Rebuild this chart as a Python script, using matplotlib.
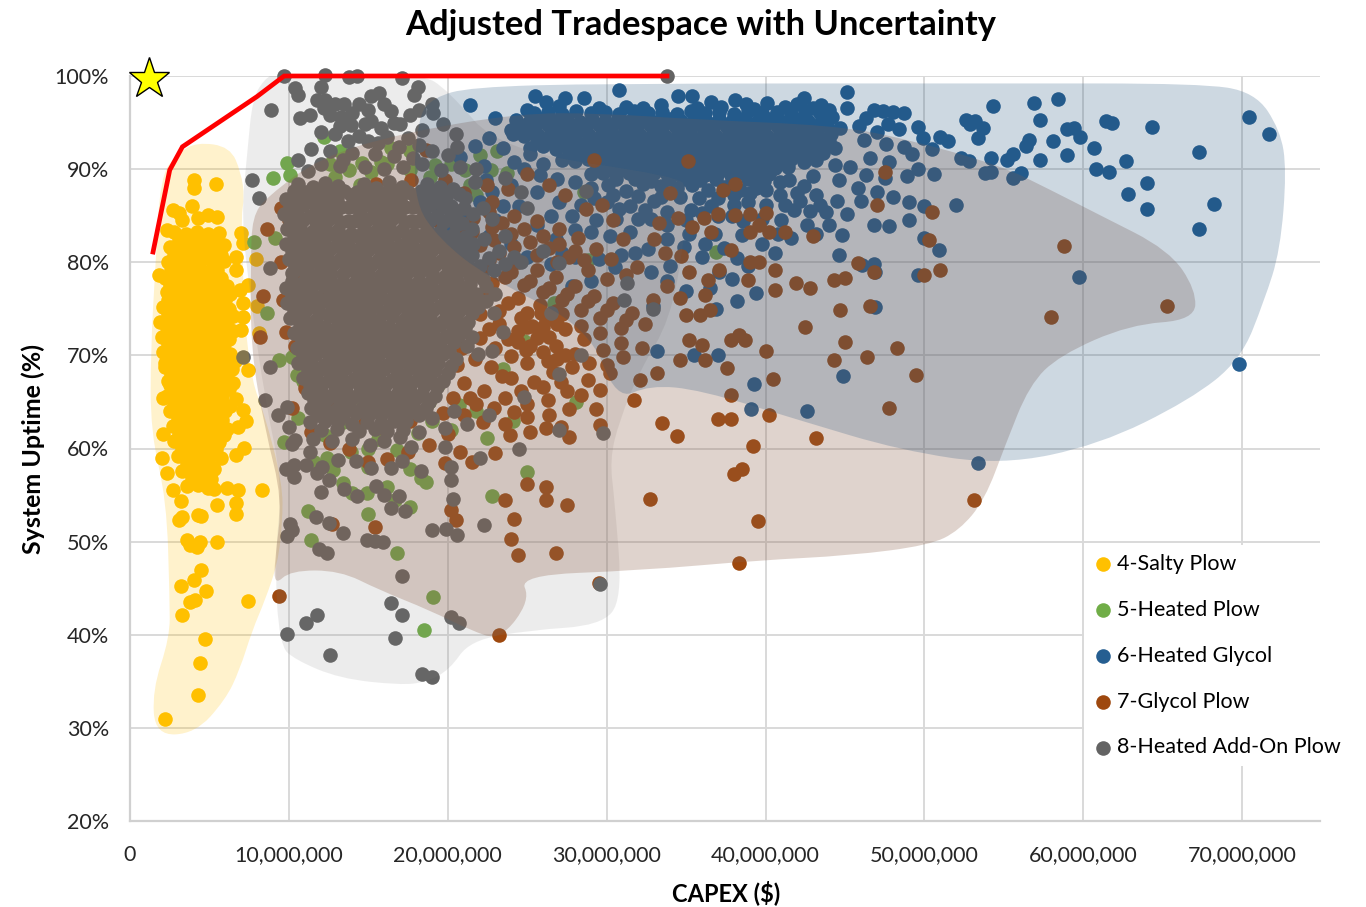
import numpy as np
import matplotlib
matplotlib.use('Agg')
import matplotlib.pyplot as plt
from matplotlib.patches import PathPatch
from matplotlib.path import Path

plt.rcParams['font.family'] = ['Lato', 'DejaVu Sans']

# points are (CAPEX in $M, uptime %)
salty = [
    (2.2,31.0),(4.3,33.5),(4.4,37.0),(4.7,39.5),(3.3,42.1),(3.8,43.5),(4.1,43.7),(3.2,45.2),(4.0,45.9),(4.5,46.9),
    (4.8,44.7),(7.4,43.6),(3.6,50.2),(3.8,49.6),(4.2,49.4),(4.4,50.0),(5.5,50.0),(3.1,52.3),(3.3,52.6),(4.5,52.7),
    (4.3,52.9),(5.5,53.9),(6.7,53.0),(6.7,54.2),(6.8,55.5),(6.1,55.8),(8.3,55.5),(7.2,60.1),(6.7,59.3),(7.3,63.0),
    (6.8,62.3),(7.1,64.1),(6.7,65.3),(7.4,68.4),(2.1,61.6),(2.0,59.0),(2.3,57.4),(2.7,55.5),(3.2,54.4),(2.1,65.4),
    (2.2,69.2),(2.5,66.8),(4.0,88.8),(4.0,88.0),(5.4,88.4),(3.9,86.0),(2.7,85.6),(3.1,85.3),(4.9,85.1),(5.5,84.9),
    (4.3,84.7),(3.3,84.5),(7.0,83.1),(7.1,82.1),(2.3,83.5),(6.7,80.6),(6.7,79.2),(1.8,78.6),(7.4,77.6),(6.9,77.0),
    (7.1,75.6),(7.1,74.1),(7.0,72.7),(8.1,72.4),(8.0,75.3),(7.9,80.3),
    (2.8,83.2),(3.5,83.0),(4.2,83.3),(4.9,83.0),(5.6,83.1),(2.5,81.6),(3.3,81.4),(4.0,81.7),(4.7,81.5),(5.4,81.4),(5.9,81.8),
    (2.4,80.0),(3.1,80.1),(3.8,79.8),(4.5,80.2),(5.2,79.9),(5.9,80.1),(2.2,78.3),(2.9,78.6),(3.6,78.4),(4.3,78.2),(5.0,78.5),(5.7,78.3),
    (2.3,76.8),(3.0,76.9),(3.7,76.6),(4.4,77.0),(5.1,76.7),(5.8,76.9),(6.3,76.6),(2.1,75.2),(2.8,75.3),(3.5,75.0),(4.2,75.4),(4.9,75.1),(5.6,75.2),(6.2,75.0),
    (1.9,73.6),(2.6,73.7),(3.3,73.4),(4.0,73.8),(4.7,73.5),(5.4,73.6),(6.1,73.3),(2.0,72.0),(2.7,72.1),(3.4,71.8),(4.1,72.2),(4.8,71.9),(5.5,72.0),(6.2,71.8),
    (2.1,70.4),(2.8,70.5),(3.5,70.2),(4.2,70.6),(4.9,70.3),(5.6,70.4),(6.3,70.1),(2.2,68.8),(2.9,68.9),(3.6,68.6),(4.3,69.0),(5.0,68.7),(5.7,68.8),(6.4,68.5),
    (2.4,67.2),(3.1,67.3),(3.8,67.0),(4.5,67.4),(5.2,67.1),(5.9,67.2),(6.5,67.0),(2.3,65.6),(3.0,65.7),(3.7,65.4),(4.4,65.8),(5.1,65.5),(5.8,65.6),
    (2.5,64.0),(3.2,64.1),(3.9,63.8),(4.6,64.2),(5.3,63.9),(6.0,64.0),(2.7,62.4),(3.4,62.5),(4.1,62.2),(4.8,62.6),(5.5,62.3),(6.1,62.1),
    (2.8,60.8),(3.5,60.9),(4.2,60.6),(4.9,61.0),(5.6,60.7),(3.0,59.2),(3.7,59.3),(4.4,59.0),(5.1,59.4),(5.7,59.0),(3.3,57.6),(4.0,57.7),(4.7,57.4),(5.3,57.8),(3.6,56.0),(4.3,56.1),(4.9,55.8),(5.3,55.6),
]

salty_core = [
    (3.1,82.4),(3.8,82.3),(4.6,82.5),(5.3,82.2),(2.8,80.8),(3.6,80.7),(4.3,80.9),(5.0,80.6),(5.7,80.8),(2.6,79.2),(3.3,79.1),(4.1,79.3),(4.8,79.0),(5.5,79.2),
    (2.5,77.6),(3.2,77.5),(4.0,77.7),(4.7,77.4),(5.4,77.6),(6.1,77.5),(2.4,76.0),(3.2,76.1),(3.9,75.9),(4.6,76.2),(5.3,75.9),(6.0,76.0),(2.4,74.4),(3.1,74.5),(3.8,74.3),(4.5,74.6),(5.2,74.3),(5.9,74.4),(6.5,74.2),
    (2.3,72.9),(3.0,72.8),(3.7,73.0),(4.4,72.7),(5.1,72.9),(5.8,72.8),(6.5,72.6),(2.4,71.2),(3.1,71.3),(3.8,71.0),(4.5,71.4),(5.2,71.1),(5.9,71.2),(2.5,69.6),(3.2,69.7),(3.9,69.4),(4.6,69.8),(5.3,69.5),(6.0,69.6),(6.6,69.4),
    (2.6,68.0),(3.3,68.1),(4.0,67.8),(4.7,68.2),(5.4,67.9),(6.1,68.0),(2.7,66.4),(3.4,66.5),(4.1,66.2),(4.8,66.6),(5.5,66.3),(6.2,66.4),(2.8,64.8),(3.5,64.9),(4.2,64.6),(4.9,65.0),(5.6,64.7),(6.3,64.6),
    (3.0,63.2),(3.7,63.3),(4.4,63.0),(5.1,63.4),(5.8,63.1),(3.1,61.6),(3.8,61.7),(4.5,61.4),(5.2,61.8),(5.9,61.4),(3.3,60.0),(4.0,60.1),(4.7,59.8),(5.4,60.0),(3.6,58.4),(4.3,58.5),(5.0,58.2),(3.9,56.8),(4.6,56.9),(5.1,56.7),
]

heated_plow = [
    (9.9,90.7),(9.0,89.0),(10.1,89.4),(7.8,82.2),(9.1,82.6),(8.6,74.6),(12.2,93.4),(9.4,69.5),(10.2,69.8),(10.5,67.9),
    (10.9,67.3),(10.6,63.3),(9.7,60.7),(11.2,53.3),(11.4,50.2),(16.8,48.8),(19.1,44.1),(18.5,40.5),(22.8,54.9),(18.3,56.8),
    (18.6,56.4),(15.0,53.0),(14.0,55.2),(14.9,55.2),(12.8,57.7),(13.4,62.8),(13.4,56.3),(15.0,58.0),(15.0,60.0),(16.2,55.9),
    (16.7,54.5),(17.6,53.7),(18.1,61.7),(20.7,64.7),(19.4,66.8),(24.1,63.0),(22.5,61.1),(25.0,57.5),(28.1,65.0),(26.9,75.6),
    (16.4,92.3),(17.6,92.0),(13.8,89.9),(15.2,89.7),(13.2,92.0),(14.5,88.3),(21.1,89.9),(22.0,91.5),(22.7,89.9),(23.1,92.0),
    (21.4,88.3),(19.2,90.4),(17.6,89.9),(18.6,87.8),(36.9,81.1),(28.8,80.2),(28.6,87.5),(26.7,75.6),(23.7,89.6),(15.8,90.8),
    (12.6,90.5),(11.6,58.5),(12.3,61.5),(14.2,65.5),(16.6,64.5),(18.8,65.0),(20.2,62.0),(21.8,64.0),(23.5,68.5),(24.8,71.5),
    (14.6,90.7),(16.2,90.6),(12.9,89.2),(18.9,89.2),(20.2,90.6),(21.8,87.2),(12.4,59.0),(13.9,59.6),(16.8,59.8),(19.0,63.0),(17.6,57.8),(15.6,61.0),
]

heated_glycol = [
    (71.7,93.8),(70.4,95.6),(69.8,69.1),(67.3,91.8),(68.2,86.3),(67.3,83.6),(64.0,88.5),(64.0,85.7),(64.3,94.5),(62.7,90.9),
    (62.8,87.3),(61.6,89.7),(60.7,92.3),(60.8,90.0),(59.8,93.4),(59.4,94.4),(59.0,94.3),(59.0,91.5),(58.1,93.0),(57.3,91.0),
    (58.4,97.5),(56.9,97.1),(57.3,95.3),(56.4,92.5),(56.6,93.1),(56.1,89.6),(55.6,89.0),(55.6,91.6),(55.2,91.0),(54.3,96.8),
    (54.2,91.2),(54.2,89.7),(53.8,89.6),(52.6,95.3),(53.2,95.2),(53.7,94.4),(53.4,93.3),(52.0,86.1),(59.7,78.4),(53.4,58.4),
    (46.9,75.2),(42.6,64.0),(39.3,66.9),(39.1,64.2),(44.9,67.8),(49.6,78.6),(50.9,81.3),(50.0,82.6),(46.9,78.9),(46.8,79.8),
    (44.6,80.8),(46.1,79.7),(61.4,95.2),(61.8,95.0),(52.9,94.8),(52.3,91.2),(52.8,90.9),(51.5,93.0),(51.0,93.4),(50.6,89.5),
    (49.6,90.0),(49.2,91.6),(49.9,93.3),(49.6,94.5),(50.5,92.2),(48.7,96.0),(48.0,96.1),(47.4,96.2),(46.8,96.3),(46.3,95.5),
    (45.9,94.6),(45.1,98.3),(45.1,96.6),(47.7,94.8),(48.4,94.3),(47.0,94.0),(46.2,93.1),(47.6,92.7),(48.7,92.4),(46.6,91.2),
    (47.8,90.8),(48.9,89.3),(47.5,89.0),(46.3,89.4),(45.3,90.2),(44.6,88.8),(45.8,88.0),(47.0,87.5),(48.0,87.0),(49.0,86.5),
    (50.0,86.0),(49.0,84.5),(47.8,83.9),(46.8,84.0),(45.1,85.2),(43.8,85.4),(42.8,85.5),(41.8,85.6),(41.0,84.5),(42.6,84.0),
    (44.0,84.0),(44.8,82.9),(43.2,87.2),(42.0,87.4),(40.9,87.2),(40.0,87.8),(41.5,88.8),(43.0,89.3),(44.4,90.4),(38.9,86.5),
    (38.0,86.2),(37.0,85.0),(36.0,85.3),(35.0,84.5),(33.8,84.0),(32.8,84.6),(36.8,83.0),(35.2,83.0),(38.5,82.9),(39.8,82.0),
    (40.6,81.0),(38.2,80.5),(37.1,79.0),(38.9,79.6),(37.9,78.2),(36.5,77.2),(35.0,76.9),(39.4,76.7),(38.2,75.8),(36.9,75.0),
    (33.8,78.0),(32.9,75.3),(33.2,70.5),(35.5,70.0),(37.0,70.0),(25.6,84.0),(26.8,82.5),(28.0,83.5),(29.3,84.5),(30.2,82.8),
    (31.5,83.2),(26.5,79.8),(27.8,77.5),(29.0,78.0),(30.5,79.5),(31.8,81.0),(24.5,86.0),(23.0,84.5),(22.0,86.5),(21.0,85.5),
    (19.3,86.0),(20.2,84.0),(22.8,87.5),(24.0,88.3),(25.6,87.5),(27.0,86.5),(28.4,86.2),(30.0,86.5),(31.5,86.0),(33.0,86.6),
    (21.4,96.9),(23.0,95.5),(24.0,94.2),(24.8,93.6),(23.5,92.3),(22.6,93.3),(21.7,92.5),(20.8,91.3),(22.3,90.3),(24.2,90.8),
    (25.5,97.9),(26.2,97.2),(27.4,97.6),(28.6,97.6),(30.8,98.5),(34.5,97.9),(35.4,97.9),(36.6,97.2),(38.1,97.4),(40.1,97.1),
    (42.4,97.6),(43.5,96.9),(25.0,96.4),(27.0,96.8),(29.5,96.6),(31.2,96.7),(32.3,96.6),(33.4,96.9),(35.7,96.6),(37.2,96.7),
    (38.8,97.0),(39.3,96.5),(41.2,96.7),(42.0,97.0),(43.0,96.6),(44.0,96.3),
    (24.3,95.3),(25.1,95.1),(25.9,95.4),(26.7,95.2),(27.5,95.4),(28.3,95.1),(29.1,95.4),(29.9,95.2),(30.7,95.5),(31.5,95.2),(32.3,95.4),(33.1,95.1),(33.9,95.4),(34.7,95.2),(35.5,95.4),(36.3,95.1),(37.1,95.4),(37.9,95.2),(38.7,95.5),(39.5,95.2),(40.3,95.4),(41.1,95.1),(41.9,95.4),(42.7,95.2),(43.5,95.1),
    (24.1,93.8),(24.9,93.9),(25.7,93.7),(26.5,93.9),(27.3,93.6),(28.1,93.9),(28.9,93.7),(29.7,93.8),(30.5,93.6),(31.3,93.9),(32.1,93.7),(32.9,93.9),(33.7,93.6),(34.5,93.9),(35.3,93.7),(36.1,93.8),(36.9,93.6),(37.7,93.9),(38.5,93.7),(39.3,93.9),(40.1,93.6),(40.9,93.9),(41.7,93.7),(42.5,93.8),(43.3,93.6),(44.1,93.8),
    (25.2,92.3),(26.0,92.5),(26.8,92.2),(27.6,92.4),(28.4,92.2),(29.2,92.4),(30.0,92.3),(30.8,92.5),(31.6,92.2),(32.4,92.4),(33.2,92.2),(34.0,92.4),(34.8,92.3),(35.6,92.5),(36.4,92.2),(37.2,92.4),(38.0,92.2),(38.8,92.4),(39.6,92.3),(40.4,92.5),(41.2,92.2),(42.0,92.4),(42.8,92.2),(43.6,92.4),(44.4,92.3),
    (27.2,91.0),(28.0,90.9),(28.8,91.1),(29.6,90.8),(30.4,91.0),(31.2,90.9),(32.0,91.1),(32.8,90.8),(33.6,91.0),(34.4,90.9),(35.2,91.1),(36.0,90.8),(36.8,91.0),(37.6,90.9),(38.4,91.1),(39.2,90.8),(40.0,91.0),(40.8,90.9),(41.6,91.1),(42.4,90.8),(43.2,91.0),
    (29.0,89.5),(29.8,89.6),(30.6,89.4),(31.4,89.6),(32.2,89.4),(33.0,89.6),(33.8,89.5),(34.6,89.4),(35.4,89.6),(36.2,89.4),(37.0,89.6),(37.8,89.4),(38.6,89.6),(39.4,89.3),(40.2,89.5),
    (33.4,88.2),(34.4,88.0),(35.4,88.3),(36.4,87.8),(37.4,88.1),(38.4,87.8),(39.4,88.0),
]

heated_glycol_core = [
    (25.4,96.0),(26.3,96.1),(27.2,95.9),(28.1,96.2),(29.0,96.0),(29.9,96.1),(30.8,95.9),(31.7,96.2),(32.6,96.0),(33.5,96.1),(34.4,95.9),(35.3,96.2),(36.2,96.0),(37.1,96.1),(38.0,95.9),(38.9,96.2),(39.8,96.0),(40.7,96.1),(41.6,95.9),(42.5,96.2),(43.4,96.0),(44.2,95.6),
    (24.7,94.6),(25.5,94.5),(26.3,94.7),(27.1,94.5),(27.9,94.6),(28.7,94.5),(29.5,94.7),(30.3,94.5),(31.1,94.6),(31.9,94.5),(32.7,94.7),(33.5,94.5),(34.3,94.6),(35.1,94.5),(35.9,94.7),(36.7,94.5),(37.5,94.6),(38.3,94.5),(39.1,94.7),(39.9,94.5),(40.7,94.6),(41.5,94.5),(42.3,94.7),(43.1,94.5),(43.9,94.6),(44.7,94.4),
    (25.6,93.1),(26.4,93.0),(27.2,93.2),(28.0,93.0),(28.8,93.1),(29.6,93.0),(30.4,93.2),(31.2,93.0),(32.0,93.1),(32.8,93.0),(33.6,93.2),(34.4,93.0),(35.2,93.1),(36.0,93.0),(36.8,93.2),(37.6,93.0),(38.4,93.1),(39.2,93.0),(40.0,93.2),(40.8,93.0),(41.6,93.1),(42.4,93.0),(43.2,93.2),(44.0,93.0),
    (27.6,91.7),(28.4,91.6),(29.2,91.8),(30.0,91.6),(30.8,91.7),(31.6,91.6),(32.4,91.8),(33.2,91.6),(34.0,91.7),(34.8,91.6),(35.6,91.8),(36.4,91.6),(37.2,91.7),(38.0,91.6),(38.8,91.8),(39.6,91.6),(40.4,91.7),(41.2,91.6),(42.0,91.8),(42.8,91.6),(43.6,91.7),
    (29.4,90.2),(30.2,90.3),(31.0,90.1),(31.8,90.3),(32.6,90.2),(33.4,90.1),(34.2,90.3),(35.0,90.2),(35.8,90.1),(36.6,90.3),(37.4,90.2),(38.2,90.1),(39.0,90.3),(39.8,90.2),(40.6,90.1),(41.4,90.2),
    (29.0,88.0),(30.1,88.3),(31.2,87.7),(32.3,88.4),(24.8,90.0),(25.8,89.4),(26.9,88.9),(28.0,88.6),(26.0,90.6),(25.2,91.6),(22.4,88.8),(23.5,86.0),(26.5,85.0),(27.8,85.0),(29.0,83.2),(30.6,84.6),(32.0,84.6),(33.8,82.5),(34.9,81.6),(36.0,80.6),(32.6,81.4),(30.9,80.8),(29.5,80.4),(28.0,80.6),(27.2,81.0),
    (37.4,81.5),(36.2,82.0),(38.6,84.4),(39.8,84.6),(40.8,83.0),(41.6,82.6),(43.2,83.0),(34.0,79.6),(32.8,79.0),(25.0,80.6),(24.0,82.0),(22.6,82.8),(21.3,83.4),
    (30.6,88.9),(31.8,88.9),(32.8,88.7),(33.9,88.9),(34.9,88.9),(35.9,88.8),(36.9,88.9),(37.9,88.7),(38.9,88.9),(39.9,88.7),(40.9,88.6),(42.4,88.2),(30.4,87.2),(32.0,87.1),(33.4,87.0),(34.6,87.0),(35.8,86.9),(37.0,86.9),(38.0,87.2),(39.0,87.4),(29.2,86.9),(30.8,85.7),(32.4,85.6),(33.8,85.4),(35.3,85.6),(36.6,86.0),(37.9,85.0),
    (40.0,86.2),(41.2,86.2),(42.2,86.6),(43.4,86.2),(44.5,86.6),(46.0,86.6),
]

glycol_plow = [
    (9.4,44.2),(23.2,40.0),(38.3,47.7),(53.1,54.5),(65.3,75.3),(58.0,74.1),(58.8,81.7),(39.5,52.2),(38.0,57.3),(38.5,57.8),
    (39.2,60.3),(43.2,61.1),(40.2,63.6),(37.8,63.2),(33.5,62.7),(34.4,61.3),(32.7,54.6),(26.8,48.8),(29.5,45.6),(24.4,48.6),
    (24.0,50.3),(24.2,52.4),(23.6,54.5),(25.0,56.2),(26.2,55.9),(26.2,54.5),(27.5,53.9),(47.8,64.3),(49.5,67.9),(48.3,70.8),
    (46.4,69.8),(44.3,69.5),(45.0,71.4),(42.5,73.0),(44.7,74.9),(46.6,75.3),(40.5,67.5),(40.0,70.5),(38.7,71.6),(38.3,72.2),
    (37.6,68.6),(37.8,65.7),(37.0,63.2),(33.2,68.1),(32.1,67.4),(31.7,65.2),(30.2,68.1),(29.6,66.3),(29.3,64.2),(29.6,62.5),
    (27.6,61.2),(27.1,62.3),(26.2,62.2),(25.2,61.8),(23.9,61.4),(23.0,59.5),(21.5,58.5),(20.8,59.6),(19.8,58.4),(20.5,52.3),
    (20.2,53.4),(15.4,51.6),(12.7,51.9),(50.5,85.4),(47.0,86.2),(47.5,89.7),(35.1,90.9),(38.1,88.4),(37.3,87.8),(38.1,85.1),
    (39.0,85.2),(40.0,85.3),(39.6,84.0),(39.0,83.2),(40.2,83.2),(41.2,83.2),(43.0,82.8),(45.8,79.9),(45.0,78.3),(46.8,79.0),
    (44.3,78.1),(41.9,77.8),(42.8,77.2),(40.6,79.2),(40.6,77.0),(39.6,80.0),(39.0,80.0),(37.8,81.3),(38.9,78.1),(37.1,79.2),
    (36.4,78.1),(36.2,76.5),(36.5,74.9),(35.9,74.3),(35.0,74.3),(35.2,71.6),(36.0,71.1),(34.6,69.5),(36.2,69.5),(37.8,71.6),
    (50.0,78.6),(51.0,79.2),(50.3,82.4),(36.1,84.7),(35.4,83.8),(36.6,83.2),(37.0,85.2),(34.0,87.4),(34.5,84.8),(33.3,84.2),
    (33.0,82.5),(33.7,81.0),(34.7,80.7),(35.2,79.0),(33.8,77.5),(34.6,76.2),(32.9,75.9),(31.9,79.5),(31.0,82.5),(30.4,84.5),
    (29.7,86.2),(28.7,85.7),(27.4,87.2),(26.4,88.3),(25.0,89.5),(23.8,87.9),(22.8,86.5),(24.2,85.0),(25.6,84.4),(27.0,83.6),
    (28.2,82.6),(29.3,81.4),(30.3,80.4),(31.2,78.6),(30.0,78.2),(28.8,79.2),(27.6,80.6),(26.4,81.5),(25.2,82.2),(24.0,83.0),
    (22.8,83.8),(21.6,84.8),(20.4,85.6),(19.4,84.4),(20.8,83.0),(22.0,81.9),(23.2,81.0),(24.4,80.0),(25.6,79.2),(26.8,78.4),
    (28.0,77.4),(29.2,76.4),(30.4,75.6),(31.6,74.6),(32.4,73.4),(30.9,72.9),(29.6,74.0),(28.4,74.9),(27.2,75.9),(26.0,76.8),
    (24.8,77.6),(23.6,78.4),(22.4,79.4),(21.2,80.4),(20.0,81.4),(19.0,82.4),(22.6,76.6),(23.8,75.6),(25.0,74.6),(26.2,73.8),
    (27.4,72.8),(28.6,71.8),(29.8,70.6),(31.0,69.8),(32.2,70.8),(28.0,70.2),(26.8,71.0),(25.6,71.9),(24.4,72.6),(23.2,73.4),
    (22.0,74.4),(24.6,74.0),(25.3,73.2),(25.8,72.6),(26.4,72.0),(26.9,73.4),(25.2,71.0),(26.0,70.4),(26.9,69.6),(25.0,69.2),
    (24.0,69.9),(23.0,70.8),(22.0,71.9),(21.0,73.0),(22.7,68.8),(24.0,67.6),(25.4,67.1),(26.6,68.2),(27.8,68.8),(28.8,67.4),
    (27.5,66.2),(26.3,65.2),(25.0,64.8),(23.6,65.4),(22.3,66.2),(21.0,67.0),(20.6,69.0),(19.6,70.6),(21.0,63.6),(22.2,62.8),
    (23.6,62.6),(25.0,63.4),(20.0,61.6),(18.8,60.4),(17.5,59.6),(16.2,58.9),(15.0,58.6),(13.8,60.0),(12.6,60.6),(11.4,61.8),
    (10.2,64.4),(9.8,72.5),(9.6,76.0),(9.5,80.0),(10.0,84.5),(9.5,85.8),(8.6,83.6),(10.6,78.0),(10.4,71.0),(11.0,66.5),
    (8.4,76.4),(8.2,72.0),(18.6,92.1),(17.7,88.8),(16.5,87.8),(15.5,88.4),(19.8,88.8),(21.0,87.4),(22.5,88.3),(29.2,91.0),
    (21.8,64.8),(19.7,63.8),(17.6,63.0),(16.0,62.2),(14.8,63.0),(13.0,64.8),(11.9,71.8),(12.4,76.5),(21.3,77.0),(20.9,70.8),
    (22.6,85.4),(23.4,84.2),(24.8,83.6),(26.0,82.8),(27.0,82.0),(28.0,81.2),(28.6,80.2),(26.9,80.0),(25.6,80.8),(24.2,81.6),(22.9,82.4),(21.5,83.2),(21.3,81.2),(22.6,80.2),(24.0,78.9),(25.2,78.0),(26.4,77.2),(27.5,76.6),(28.8,75.8),(30.0,74.9),(31.2,73.8),
    (22.8,77.8),(21.6,78.6),(29.6,72.4),(28.4,73.2),(27.2,74.4),(25.8,75.4),(24.4,76.2),(23.2,74.8),(21.5,75.6),(22.6,72.8),(23.8,71.8),(24.9,70.6),(26.3,69.4),(27.4,70.0),(28.9,69.2),(30.0,69.0),(30.9,71.3),
    (25.9,74.5),(26.8,74.8),(25.0,73.0),(26.0,73.0),(24.4,71.4),(23.4,67.8),(24.6,66.2),(26.0,66.6),(27.1,67.1),(28.4,65.7),(21.7,69.6),(21.4,65.4),(20.3,65.4),(22.9,64.4),(24.2,63.9),(26.4,63.6),(27.6,64.2),
]

add_on = [
    (12.6,37.8),(9.9,40.1),(11.1,41.3),(11.8,42.1),(18.4,35.8),(19.0,35.5),(16.7,39.6),(17.1,42.1),(16.4,43.4),(20.2,41.9),
    (20.7,41.3),(17.1,46.3),(29.6,45.4),(33.8,100.0),(9.7,100.0),(8.9,96.4),(7.7,88.8),(8.1,86.9),(8.8,79.4),(7.1,69.8),
    (8.8,68.8),(8.5,65.2),(9.3,63.6),(10.3,56.9),(9.8,57.8),(10.2,60.5),(10.0,62.3),(9.9,64.5),(12.3,100.1),(13.8,99.9),(14.3,100.0),
    (17.1,99.8),(10.4,98.7),(10.6,98.0),(12.0,98.8),(11.8,97.4),(12.3,97.4),(18.1,98.8),(17.9,98.0),(15.7,98.2),(15.2,97.8),
    (14.4,97.0),(12.9,97.0),(13.5,97.0),(11.3,95.8),(12.6,95.8),(10.7,95.5),(13.9,94.7),(14.8,94.8),(17.0,94.8),(19.0,97.0),
    (19.1,96.0),(19.7,94.8),(20.5,93.8),(16.4,96.2),(16.0,97.0),(15.2,95.2),(12.0,94.0),(12.9,93.8),(13.7,93.0),(15.0,93.0),
    (16.2,93.5),(17.5,93.3),(18.4,94.2),(11.4,92.2),(12.6,92.0),(14.0,91.7),(15.4,91.6),(16.6,91.4),(17.8,91.2),(19.0,92.0),(20.0,91.5),
    (10.6,91.0),(13.2,90.3),(16.0,90.0),(18.4,90.5),(19.6,89.9),(20.8,90.2),(21.7,88.6),
    (13.3,95.6),(14.0,96.0),(13.2,94.6),(14.4,93.6),(15.8,94.4),(16.6,95.0),(17.6,95.8),(18.2,96.4),(15.0,96.4),(12.2,96.6),(13.4,91.0),(12.0,90.6),(14.8,90.2),(17.2,90.2),(15.6,92.8),(16.9,92.4),(18.2,92.6),(11.2,89.8),
    (10.6,88.4),(11.5,88.1),(12.3,88.5),(13.1,88.2),(13.9,87.2),(14.7,88.4),(15.5,88.0),(16.3,88.6),(17.1,88.1),(17.9,87.2),(18.7,88.4),(19.5,88.1),(20.3,87.9),(21.1,86.9),
    (9.8,86.8),(10.6,86.9),(11.4,86.6),(12.2,87.0),(13.0,86.7),(13.8,85.9),(14.6,86.8),(15.4,86.6),(16.2,87.0),(17.0,86.7),(17.8,85.9),(18.6,86.8),(19.4,86.6),(20.2,86.0),(21.0,85.8),(22.2,85.8),
    (9.7,85.2),(10.5,85.3),(11.3,85.0),(12.1,85.4),(12.9,85.1),(13.7,84.4),(14.5,85.2),(15.3,85.0),(16.1,85.4),(16.9,85.1),(17.7,84.4),(18.5,85.2),(19.3,85.0),(20.1,84.6),(20.9,84.2),
    (9.9,83.6),(10.7,83.7),(11.5,83.4),(12.3,83.8),(13.1,83.5),(13.9,83.0),(14.7,83.6),(15.5,83.4),(16.3,83.8),(17.1,83.5),(17.9,83.0),(18.7,83.6),(19.5,83.3),(20.3,82.9),(21.1,82.7),(22.3,82.5),
    (9.8,82.0),(10.6,82.1),(11.4,81.8),(12.2,82.2),(13.0,81.9),(13.8,81.6),(14.6,82.0),(15.4,81.8),(16.2,82.2),(17.0,81.9),(17.8,81.6),(18.6,82.0),(19.4,81.7),(20.2,81.6),(21.0,81.3),(23.2,81.2),(24.2,80.6),
    (10.0,80.4),(10.8,80.5),(11.6,80.2),(12.4,80.6),(13.2,80.3),(14.0,80.2),(14.8,80.4),(15.6,80.2),(16.4,80.6),(17.2,80.3),(18.0,80.2),(18.8,80.4),(19.6,80.1),(20.4,80.2),(21.2,79.9),(22.0,79.6),(22.9,79.2),
    (10.2,78.8),(11.0,78.9),(11.8,78.6),(12.6,79.0),(13.4,78.7),(14.2,78.8),(15.0,78.8),(15.8,78.6),(16.6,79.0),(17.4,78.7),(18.2,78.8),(19.0,78.8),(19.8,78.5),(20.6,78.8),(21.4,78.5),(22.2,78.2),
    (9.8,77.2),(10.6,77.3),(11.4,77.0),(12.2,77.4),(13.0,77.1),(13.8,77.2),(14.6,77.2),(15.4,77.0),(16.2,77.4),(17.0,77.1),(17.8,77.2),(18.6,77.2),(19.4,76.9),(20.2,77.2),(21.0,76.9),(21.8,76.6),(23.0,76.6),
    (9.9,75.6),(10.7,75.7),(11.5,75.4),(12.3,75.8),(13.1,75.5),(13.9,75.6),(14.7,75.6),(15.5,75.4),(16.3,75.8),(17.1,75.5),(17.9,75.6),(18.7,75.6),(19.5,75.3),(20.3,75.6),(21.1,75.3),(21.9,75.2),(22.9,74.6),
    (10.1,74.0),(10.9,74.1),(11.7,73.8),(12.5,74.2),(13.3,73.9),(14.1,74.0),(14.9,74.0),(15.7,73.8),(16.5,74.2),(17.3,73.9),(18.1,74.0),(18.9,74.0),(19.7,73.7),(20.5,74.0),(21.3,73.6),
    (10.3,72.4),(11.1,72.5),(11.9,72.2),(12.7,72.6),(13.5,72.3),(14.3,72.4),(15.1,72.4),(15.9,72.2),(16.7,72.6),(17.5,72.3),(18.3,72.4),(19.1,72.4),(19.9,72.1),(20.7,72.2),(21.5,72.0),
    (10.5,70.8),(11.3,70.9),(12.1,70.6),(12.9,71.0),(13.7,70.7),(14.5,70.8),(15.3,70.8),(16.1,70.6),(16.9,71.0),(17.7,70.7),(18.5,70.8),(19.3,70.8),(20.1,70.5),(21.9,70.2),
    (10.6,69.2),(11.4,69.3),(12.2,69.0),(13.0,69.4),(13.8,69.1),(14.6,69.2),(15.4,69.2),(16.2,69.0),(17.0,69.4),(17.8,69.1),(18.6,69.2),(19.4,69.2),(20.2,68.9),
    (10.9,67.6),(11.7,67.7),(12.5,67.4),(13.3,67.8),(14.1,67.5),(14.9,67.6),(15.7,67.6),(16.5,67.4),(17.3,67.8),(18.1,67.5),(18.9,67.6),(19.7,67.3),
    (11.2,66.0),(12.0,66.1),(12.8,65.8),(13.6,66.2),(14.4,65.9),(15.2,66.0),(16.0,66.0),(16.8,65.8),(17.6,66.2),(18.4,65.9),(19.2,65.6),
    (11.4,64.4),(12.2,64.5),(13.0,64.2),(13.8,64.6),(14.6,64.3),(15.4,64.4),(16.2,64.4),(17.0,64.2),(17.8,64.6),(18.6,64.3),(20.4,64.0),
    (11.3,62.8),(12.3,62.9),(13.1,63.0),(14.0,62.6),(14.9,62.8),(15.8,62.7),(16.6,62.9),(17.4,63.0),(18.2,61.8),(19.8,62.2),(21.2,62.6),
    (11.5,61.0),(12.7,60.8),(14.0,61.0),(15.1,60.4),(16.0,60.8),(17.0,61.2),(17.7,60.2),(19.8,60.2),
    (10.3,58.2),(10.4,60.9),(11.3,59.6),(12.1,58.0),(13.1,58.8),(14.2,58.7),(15.2,57.9),(16.4,57.9),(17.1,58.7),(18.3,57.6),(20.2,56.6),(20.3,54.6),
    (11.1,58.2),(12.5,56.6),(11.8,57.4),(13.5,55.6),(14.3,54.9),(15.5,56.0),(16.0,55.0),(16.9,54.9),(16.4,53.6),(17.3,53.3),(12.0,55.3),
    (10.1,51.9),(10.2,51.2),(9.9,50.6),(11.7,52.6),(12.5,52.0),(13.4,50.9),(14.9,50.2),(15.4,50.1),(15.9,50.0),(19.0,51.3),(19.9,51.4),
    (20.6,50.7),(22.3,51.8),(11.9,49.2),(12.4,48.8),(29.8,61.7),(27.0,62.0),(24.5,60.0),(22.0,59.0),(20.2,58.0),(22.6,63.6),
    (24.8,65.5),(27.0,68.0),(28.4,70.0),(26.5,74.5),(23.5,72.5),(22.8,70.5),(24.6,80.0),(26.0,81.2),(24.6,87.5),(23.6,89.0),
    (27.0,79.9),(28.7,87.6),(31.3,77.8),(25.0,85.8),(22.8,84.6),(23.6,82.8),(21.8,90.0),(20.6,92.4),(31.1,76.0),(32.9,75.0),
]

add_on_core = [
    (10.3,87.6),(11.1,87.5),(11.9,87.7),(12.7,87.5),(13.5,87.6),(14.3,87.5),(15.1,87.7),(15.9,87.4),(16.7,87.6),(17.5,87.5),(18.3,87.7),(19.1,87.5),(19.9,87.0),(20.7,87.3),
    (10.1,86.0),(10.9,86.1),(11.7,85.9),(12.5,86.2),(13.3,85.9),(14.1,86.0),(14.9,86.1),(15.7,85.9),(16.5,86.2),(17.3,85.9),(18.1,86.0),(18.9,86.1),(19.7,85.9),(20.5,85.4),(21.6,85.2),
    (10.1,84.4),(10.9,84.5),(11.7,84.3),(12.5,84.6),(13.3,84.3),(14.1,84.4),(14.9,84.5),(15.7,84.3),(16.5,84.6),(17.3,84.3),(18.1,84.4),(18.9,84.5),(19.7,84.3),(20.5,84.0),(21.5,83.6),
    (10.3,82.8),(11.1,82.9),(11.9,82.7),(12.7,83.0),(13.5,82.7),(14.3,82.8),(15.1,82.9),(15.9,82.7),(16.7,83.0),(17.5,82.7),(18.3,82.8),(19.1,82.9),(19.9,82.7),(20.7,82.4),(21.6,82.0),
    (10.2,81.2),(11.0,81.3),(11.8,81.1),(12.6,81.4),(13.4,81.1),(14.2,81.2),(15.0,81.3),(15.8,81.1),(16.6,81.4),(17.4,81.1),(18.2,81.2),(19.0,81.3),(19.8,81.1),(20.6,81.0),(21.5,80.8),(22.6,80.5),
    (10.4,79.6),(11.2,79.7),(12.0,79.5),(12.8,79.8),(13.6,79.5),(14.4,79.6),(15.2,79.7),(16.0,79.5),(16.8,79.8),(17.6,79.5),(18.4,79.6),(19.2,79.7),(20.0,79.5),(20.8,79.4),(21.7,79.2),(23.6,79.8),
    (10.2,78.0),(11.0,78.1),(11.8,77.9),(12.6,78.2),(13.4,77.9),(14.2,78.0),(15.0,78.1),(15.8,77.9),(16.6,78.2),(17.4,77.9),(18.2,78.0),(19.0,78.1),(19.8,77.9),(20.6,78.0),(21.4,77.7),(22.4,77.4),
    (10.2,76.4),(11.0,76.5),(11.8,76.3),(12.6,76.6),(13.4,76.3),(14.2,76.4),(15.0,76.5),(15.8,76.3),(16.6,76.6),(17.4,76.3),(18.2,76.4),(19.0,76.5),(19.8,76.3),(20.6,76.4),(21.4,76.1),(22.4,75.8),
    (10.3,74.8),(11.1,74.9),(11.9,74.7),(12.7,75.0),(13.5,74.7),(14.3,74.8),(15.1,74.9),(15.9,74.7),(16.7,75.0),(17.5,74.7),(18.3,74.8),(19.1,74.9),(19.9,74.7),(20.7,74.8),(21.5,74.5),
    (10.7,73.2),(11.5,73.3),(12.3,73.1),(13.1,73.4),(13.9,73.1),(14.7,73.2),(15.5,73.3),(16.3,73.1),(17.1,73.4),(17.9,73.1),(18.7,73.2),(19.5,73.3),(20.3,73.1),(21.1,72.9),
    (10.8,71.6),(11.6,71.7),(12.4,71.5),(13.2,71.8),(14.0,71.5),(14.8,71.6),(15.6,71.7),(16.4,71.5),(17.2,71.8),(18.0,71.5),(18.8,71.6),(19.6,71.7),(20.4,71.4),(21.2,71.0),
    (10.9,70.0),(11.7,70.1),(12.5,69.9),(13.3,70.2),(14.1,69.9),(14.9,70.0),(15.7,70.1),(16.5,69.9),(17.3,70.2),(18.1,69.9),(18.9,70.0),(19.7,70.1),(20.5,69.6),
    (11.2,68.4),(12.0,68.5),(12.8,68.3),(13.6,68.6),(14.4,68.3),(15.2,68.4),(16.0,68.5),(16.8,68.3),(17.6,68.6),(18.4,68.3),(19.2,68.4),(20.0,68.1),
    (11.3,66.8),(12.1,66.9),(12.9,66.7),(13.7,67.0),(14.5,66.7),(15.3,66.8),(16.1,66.9),(16.9,66.7),(17.7,67.0),(18.5,66.7),(19.3,66.6),
    (11.6,65.2),(12.4,65.3),(13.2,65.1),(14.0,65.4),(14.8,65.1),(15.6,65.2),(16.4,65.3),(17.2,65.1),(18.0,65.4),(18.8,65.0),
    (11.8,63.6),(12.6,63.7),(13.4,63.5),(14.2,63.8),(15.0,63.5),(15.8,63.6),(16.6,63.7),(17.4,63.5),(18.2,63.6),(19.0,63.3),
    (12.0,62.0),(13.0,62.1),(14.4,61.9),(15.4,62.1),(16.2,61.9),(17.2,62.0),
]

capex_ticks = [0, 10, 20, 30, 40, 50, 60, 70]
capex_labels = ['0', '10,000,000', '20,000,000', '30,000,000', '40,000,000', '50,000,000', '60,000,000', '70,000,000']
uptime_ticks = [20, 30, 40, 50, 60, 70, 80, 90, 100]

# best-case frontier and the utopia star
frontier_x = [1.45, 2.5, 3.3, 8.0, 9.7, 33.8]
frontier_y = [81.1, 89.9, 92.4, 97.8, 100, 100]

# hand drawn uncertainty blobs
salty_blob = [(4.2,92.9),(6.3,92.4),(7.0,89.6),(7.2,87),(7.0,84.9),(7.1,80.2),(7.2,73.8),(7.7,67),(8.4,64.1),(9.6,56.3),(9.6,52),(9.3,47.7),(8.5,43.7),(7.7,40.5),(6.9,36.2),(6,33),(4.1,29.4),(1.6,29.2),(1.4,34),(2.5,39.7),(2.5,43.7),(2.3,54.5),(1.3,61.7),(1.3,70.6),(1.6,79.5),(1.9,89.2),(3,91.7)]
add_on_blob = [(8.4,99.6),(9.4,100.6),(18.3,100.3),(20,98.5),(23.3,92),(34.6,89.2),(35,87.8),(34.9,82.4),(34,73.8),(32.1,68.4),(30.8,63),(30.2,58.8),(30.5,54.5),(31,43.7),(29.6,41),(25.2,40.5),(21.4,39.4),(20.1,36.2),(18.6,34.9),(17,34.6),(13.2,35.3),(10.4,37.3),(9.4,38.9),(9.1,48),(9.6,56.3),(8.5,65.2),(7.6,75.9),(7,84.9),(7.4,92.1),(7.7,97.4)]
glycol_blob = [(7.7,84.9),(8.6,87),(12,91.3),(17.2,93.9),(24.5,96),(29.6,96),(35.9,95.3),(44.2,94.7),(48.5,93.4),(54.8,90.4),(57.9,87.8),(61,85.1),(65.4,81.3),(67.1,77),(67,73.8),(62.9,73.3),(58.5,70),(56.6,66.8),(55.1,60.4),(53.8,54.5),(52.2,51.2),(50.3,49.6),(45.3,48.5),(39.6,48),(32.1,46.9),(24.5,46.4),(25.2,43.7),(23.3,39.4),(21.4,40.5),(18.9,42.6),(15.7,44.8),(13.2,46.9),(10.1,46.9),(9.1,45.3),(9.1,48),(9.6,54.5),(8.5,62),(7.6,70.6),(7.6,80.2)]
heated_blob = [(18.1,95.6),(19.1,97.7),(21.4,98.8),(29.6,99.2),(54.8,99.2),(67.3,99.2),(70.8,98.3),(72.4,94.2),(72.8,89.9),(72.4,81.3),(71.4,75.9),(69.9,69.5),(66.7,65.2),(61,60.4),(54.8,58.2),(48.5,59.8),(42.2,63),(35.9,66.3),(32.7,66.8),(30.6,65.2),(28.9,73),(22.5,78.4),(19.5,82.4),(17.8,86.7)]


def draw(pts, color, name, ax):
    arr = np.array(pts)
    return ax.scatter(arr[:, 0], arr[:, 1], s=110, color=color, linewidths=0, label=name, zorder=2, clip_on=False)


def blob(outline, color, alpha, ax):
    # rounded outline: quadratic curves with the outline vertices as control points
    pts = np.array(outline, dtype=float)
    mids = (pts + np.roll(pts, -1, axis=0)) / 2
    verts = [mids[-1]]
    codes = [Path.MOVETO]
    for p, m in zip(pts, mids):
        verts += [p, m]
        codes += [Path.CURVE3, Path.CURVE3]
    ax.add_patch(PathPatch(Path(verts, codes), fc=color, ec='none', alpha=alpha, zorder=3))


fig = plt.figure(figsize=(13.66, 9.07), dpi=100)
ax = fig.add_axes([130 / 1366, 1 - 821 / 907, 1190 / 1366, 745 / 907])

draw(salty + salty_core, '#FFC000', '4-Salty Plow', ax)
draw(heated_plow, '#70AD47', '5-Heated Plow', ax)
draw(heated_glycol + heated_glycol_core, '#255E91', '6-Heated Glycol', ax)
draw(glycol_plow, '#9E480E', '7-Glycol Plow', ax)
draw(add_on + add_on_core, '#636363', '8-Heated Add-On Plow', ax)

# blobs sit on top of the points
blob(salty_blob, '#FFC000', 0.2, ax)
blob(add_on_blob, '#7F7F7F', 0.14, ax)
blob(glycol_blob, '#8C5F48', 0.27, ax)
blob(heated_blob, '#1F4E79', 0.22, ax)

ax.plot(frontier_x, frontier_y, color='#FF0000', lw=3.4, zorder=4, solid_joinstyle='miter', clip_on=False)
ax.plot([1.2], [99.7], marker='*', ms=31, mfc='#FFFF00', mec='black', mew=1.0, zorder=5, clip_on=False, ls='none')

ax.set_xlim(0, 74.9)
ax.set_ylim(20, 100)
ax.set_xticks(capex_ticks)
ax.set_xticklabels(capex_labels)
ax.set_yticks(uptime_ticks)
ax.set_yticklabels([f'{v}%' for v in uptime_ticks])
ax.tick_params(length=0, labelsize=15.5, colors='#262626')
ax.tick_params(axis='x', pad=17)
ax.tick_params(axis='y', pad=15)
ax.grid(True, color='#D9D9D9', lw=1.4, zorder=0)
ax.set_axisbelow(True)
for side in ['top', 'right']:
    ax.spines[side].set_visible(False)
for side in ['left', 'bottom']:
    ax.spines[side].set_color('#D0D0D0')
    ax.spines[side].set_linewidth(1.6)

fig.text(701 / 1366, 1 - 25 / 907, 'Adjusted Tradespace with Uncertainty', ha='center', va='center', fontsize=24.8, fontweight='bold')
fig.text(726 / 1366, 1 - 893 / 907, 'CAPEX ($)', ha='center', va='center', fontsize=17, fontweight='bold')
fig.text(33 / 1366, 1 - 449 / 907, 'System Uptime (%)', ha='center', va='center', rotation=90, fontsize=18, fontweight='bold')

leg = ax.legend(loc='lower left', bbox_to_anchor=(1084 / 1366, 1 - 766 / 907), bbox_transform=fig.transFigure,
                frameon=True, facecolor='white', edgecolor='none', framealpha=1, fontsize=15.5, labelspacing=1.2,
                handlelength=1, handletextpad=0.15, borderpad=0.4, borderaxespad=0, markerscale=1.0)
leg.set_zorder(6)

fig.savefig('out.png', dpi=100)
